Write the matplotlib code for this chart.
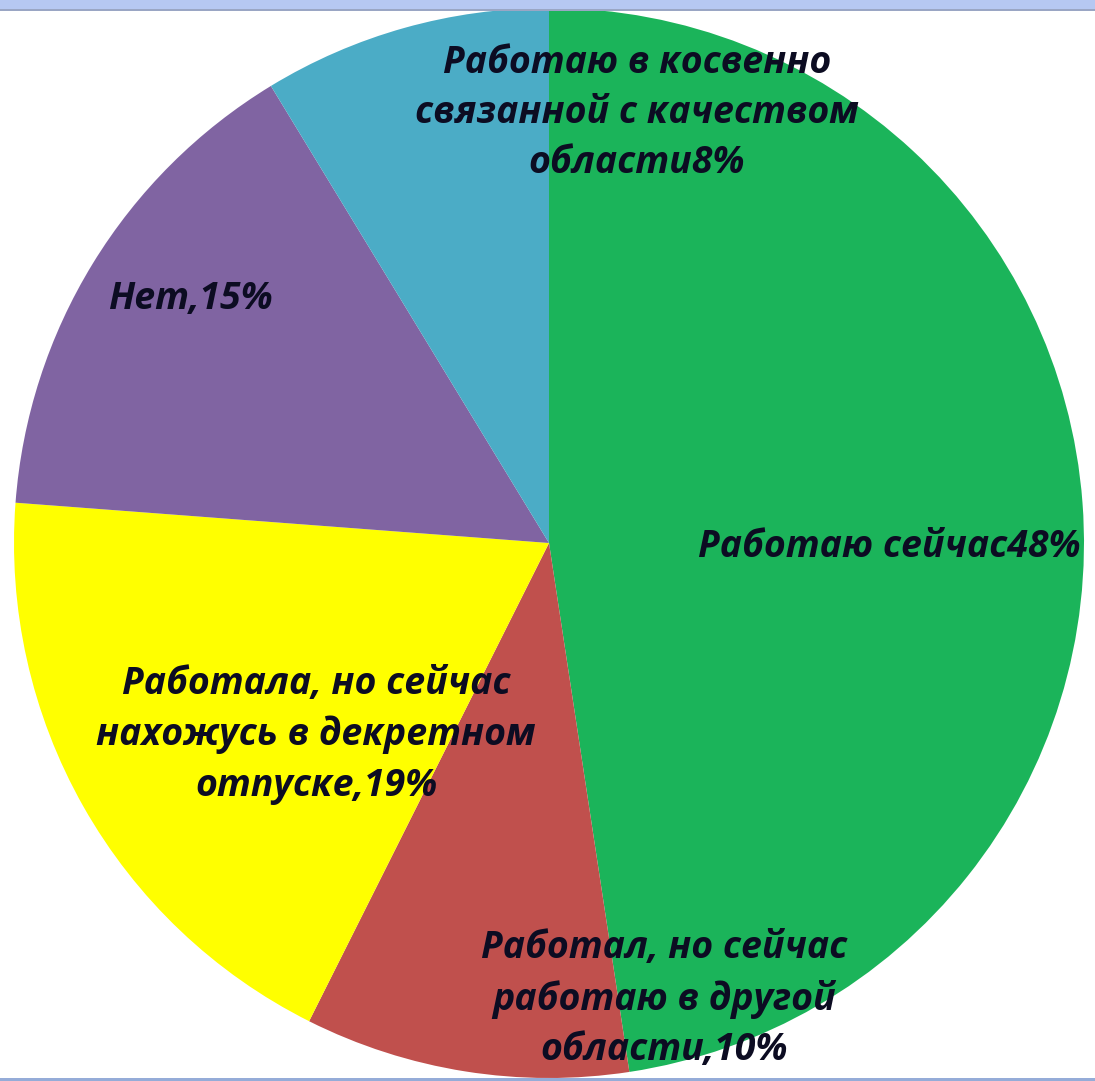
import matplotlib
matplotlib.use("Agg")
import matplotlib.pyplot as plt
from matplotlib.patches import Rectangle

# slice shares, clockwise from top
categories = ["Работаю сейчас", "Работал, но сейчас работаю в другой области",
              "Работала, но сейчас нахожусь в декретном отпуске", "Нет",
              "Работаю в косвенно связанной с качеством области"]
shares = [47.6, 9.8, 18.8, 15.1, 8.7]
colors = ["#1BB45A", "#C0504D", "#FFFF00", "#8064A2", "#4BACC6"]

label_texts = [
    "Работаю сейчас48%",
    "Работал, но сейчас\nработаю в другой\nобласти,10%",
    "Работала, но сейчас\nнахожусь в декретном\nотпуске,19%",
    "Нет,15%",
    "Работаю в косвенно\nсвязанной с качеством\nобласти8%",
]
# label centres in pixel coords (x, y from top)
label_pos = [(889, 547), (664, 999), (316, 735), (190, 299), (637, 113)]

W, H = 1095, 1081
fig = plt.figure(figsize=(W / 100, H / 100), dpi=100)
fig.patch.set_linewidth(0)
ax = fig.add_axes([0, 0, 1, 1])

ax.pie(shares, colors=colors, startangle=90, counterclock=False,
       center=(549, H - 543), radius=535,
       wedgeprops=dict(linewidth=0))
ax.set_xlim(0, W)
ax.set_ylim(0, H)
ax.set_aspect("auto")
ax.set_frame_on(False)
ax.axis("off")

for txt, (x, y) in zip(label_texts, label_pos):
    ax.text(x, H - y, txt, ha="center", va="center", fontsize=27,
            family=["Open Sans", "DejaVu Sans"], style="italic", weight="bold",
            color="#0c0c22", linespacing=1.42)

# window frame bits
for y0, h, c in [(H - 9, 9, "#b6c8f2"), (H - 11, 2, "#9aa6c4"), (0, 3, "#95acd8")]:
    fig.patches.append(Rectangle((0, y0 / H), 1, h / H, transform=fig.transFigure,
                                 facecolor=c, linewidth=0, zorder=5))

fig.savefig("out.png", dpi=100)
